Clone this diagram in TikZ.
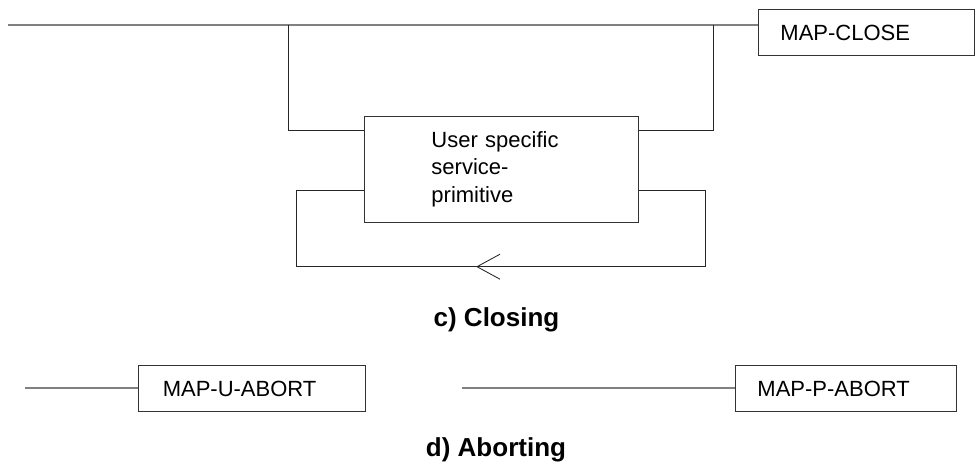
\documentclass[tikz,border=0pt]{standalone}
\usepackage{fontspec}
\setmainfont{Liberation Sans}
\begin{document}
\begin{tikzpicture}[x=1pt,y=-1pt,
  box/.style={draw=black!80,line width=0.9pt,anchor=north west,inner ysep=0pt,
    font=\fontsize{22}{27.5}\selectfont,align=left},
  feed/.style={draw=black!50,line width=2pt},
  loopline/.style={draw=black!85,line width=0.85pt},
  caption/.style={font=\fontsize{26}{30}\selectfont\bfseries,anchor=base}]
\useasboundingbox (0,0) rectangle (975,468);
% boxes
\node[box,minimum height=45.5,text width=172,inner xsep=22] (close) at (758,9.5) {MAP-CLOSE};
\node[box,minimum height=106,text width=140,inner xsep=67] (usp) at (364,115.7)
  {User specific\\service-\\primitive};
\node[box,minimum height=46,text width=179,inner xsep=24] (uabort) at (138.3,365) {MAP-U-ABORT};
\node[box,minimum height=46,text width=177,inner xsep=22] (pabort) at (735,365) {MAP-P-ABORT};
% coordinates
\coordinate (start) at (8,25);
\coordinate (tl) at (288,25);
\coordinate (tr) at (713,25);
\coordinate (ul) at (288,130.7);
\coordinate (ur) at (713,130.7);
\coordinate (ml) at (296,190.7);
\coordinate (mr) at (705,190.7);
\coordinate (bl) at (296,266.7);
\coordinate (br) at (705,266.7);
\coordinate (ustart) at (25,387.7);
\coordinate (pstart) at (461.7,387.7);
% top line
\draw[feed] (start) -- (start -| close.west);
% branch to user specific
\draw[loopline] (tl) -- (ul) -- (ul -| usp.west);
\draw[loopline] (tr) -- (ur) -- (ur -| usp.east);
% loop back
\draw[loopline] (mr -| usp.east) -- (mr) -- (br) -- (bl) -- (ml) -- (ml -| usp.west);
\draw[loopline] (500,254.2) -- (477,266.7) -- (500,279.2);
% captions
\node[caption] (capc) at (496.5,326.7) {c) Closing};
\node[caption] (capd) at (496,456.7) {d) Aborting};
% abort lines
\draw[feed] (ustart) -- (ustart -| uabort.west);
\draw[feed] (pstart) -- (pstart -| pabort.west);
\end{tikzpicture}
\end{document}
